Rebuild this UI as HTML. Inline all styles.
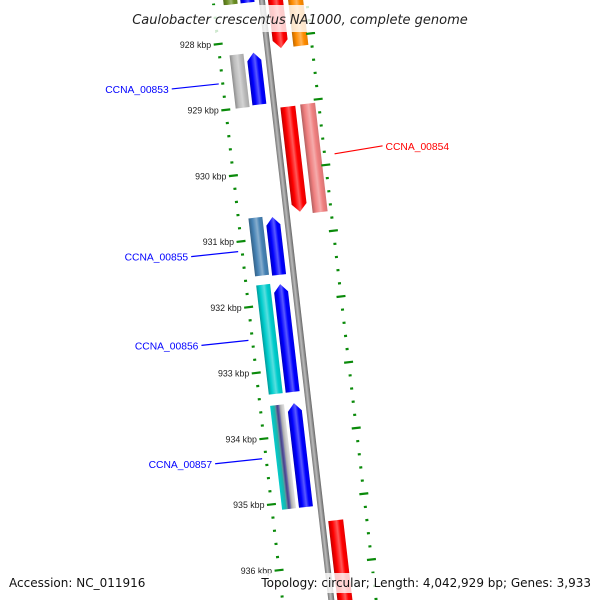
<!DOCTYPE html>
<html><head><meta charset="utf-8">
<style>
html,body{margin:0;padding:0;background:#fff;width:600px;height:600px;overflow:hidden;}
svg{display:block;font-family:"Liberation Sans","DejaVu Sans",sans-serif;overflow:hidden;}
</style></head>
<body>
<svg id="map" width="600" height="600" viewBox="0 0 600 600" xmlns="http://www.w3.org/2000/svg">
<defs>
<linearGradient id="bb" x1="0" x2="1" y1="0" y2="0">
<stop offset="0" stop-color="#777"/><stop offset="0.45" stop-color="#bbb"/><stop offset="1" stop-color="#666"/>
</linearGradient>
</defs>
<g id="rot" transform="translate(280,300) rotate(-6.6)"></g>
<g id="labels"></g>
<rect x="118" y="5" width="364" height="27" fill="#fff" fill-opacity="0.8"/>
<text x="300" y="24" text-anchor="middle" font-size="13" font-style="italic" fill="#222" style="font-family:'DejaVu Sans',sans-serif">Caulobacter crescentus NA1000, complete genome</text>
<rect x="258" y="573" width="342" height="20" fill="#fff" fill-opacity="0.8"/>
<text x="9" y="587" font-size="12" fill="#111" style="font-family:'DejaVu Sans',sans-serif">Accession: NC_011916</text>
<text x="591" y="587" text-anchor="end" font-size="12" fill="#111" style="font-family:'DejaVu Sans',sans-serif">Topology: circular; Length: 4,042,929 bp; Genes: 3,933</text>
</svg>
<script>
// feature data (kbp)
var featStart = [927.0, 928.19, 930.67, 931.69, 933.52, 927.0, 928.19, 930.69, 931.71, 933.52, 927.0, 929.06, 935.35, 927.0, 929.05];
var featEnd   = [927.43, 929.0, 931.55, 933.35, 935.10, 927.43, 928.98, 931.57, 933.35, 935.10, 928.17, 930.66, 937.2, 928.17, 930.70];
var featLane  = [0, 0, 0, 0, 0, 1, 1, 1, 1, 1, 2, 2, 2, 3, 3];
var featColor = ["#6b8e23","#bbbbbb","#4682b4","#00cdcd","mix","#0000ff","#0000ff","#0000ff","#0000ff","#0000ff","#ff0000","#ff0000","#ff0000","#ff8c00","#f08080"];
var featArrow = [0,0,0,0,0,-1,-1,-1,-1,-1,1,1,1,0,0];
var labelText = ["CCNA_00853","CCNA_00854","CCNA_00855","CCNA_00856","CCNA_00857"];
var labelKbp  = [928.6, 929.85, 931.15, 932.5, 934.3];
var labelSide = [-1, 1, -1, -1, -1];
var labelColor= ["#0000ff","#ff0000","#0000ff","#0000ff","#0000ff"];
var tickMajor = [928,929,930,931,932,933,934,935,936];
var tickMin = 927.0, tickMax = 937.4;

var NS="http://www.w3.org/2000/svg";
var A=6.6*Math.PI/180, CA=Math.cos(A), SA=Math.sin(A);
function vOf(k){return -261.4+(k-928)*66.2;}
function toScreen(u,v){return [280+u*CA+v*SA, 300-u*SA+v*CA];}
var laneU=[-15,2,30,50], laneW=[14,14,15,15];
var rot=document.getElementById('rot'), lab=document.getElementById('labels'), defs=document.querySelector('defs');
function mk(tag,attrs,parent){var e=document.createElementNS(NS,tag);for(var k in attrs)e.setAttribute(k,attrs[k]);parent.appendChild(e);return e;}

var bb=mk('rect',{x:13.5,y:-330,width:6,height:660,fill:'url(#bb)'},rot);



function shade(c,f){var n=parseInt(c.slice(1),16);var r=n>>16,g=(n>>8)&255,b=n&255;
 function m(x){return Math.round(f>0?x+(255-x)*f:x*(1+f));}
 return 'rgb('+m(r)+','+m(g)+','+m(b)+')';}
function grad(id,c){var g=mk('linearGradient',{id:id,x1:0,x2:1,y1:0,y2:0},defs);
 if(c==='mix'){[[0,'#00cdcd'],[0.3,'#20b2aa'],[0.35,'#5f9ea0'],[0.5,'#483d8b'],[0.62,'#6a6aaa'],[0.7,'#aaaaaa'],[0.85,'#cccccc'],[1,'#e0e0e0']].forEach(function(s){mk('stop',{offset:s[0],'stop-color':s[1]},g);});}
 else{[[0,shade(c,-0.25)],[0.25,c],[0.55,shade(c,0.35)],[0.75,c],[1,shade(c,-0.1)]].forEach(function(s){mk('stop',{offset:s[0],'stop-color':s[1]},g);});}
}
for(var i=0;i<featStart.length;i++){
 var u=laneU[featLane[i]], w=laneW[featLane[i]], v1=vOf(featStart[i]), v2=vOf(featEnd[i]);
 var x0=u-w/2, x1=u+w/2, h=8, d;
 grad('g'+i,featColor[i]);
 if(featArrow[i]<0) d='M'+x0+','+(v1+h)+' L'+u+','+v1+' L'+x1+','+(v1+h)+' L'+x1+','+v2+' L'+x0+','+v2+'Z';
 else if(featArrow[i]>0) d='M'+x0+','+v1+' L'+x1+','+v1+' L'+x1+','+(v2-h)+' L'+u+','+v2+' L'+x0+','+(v2-h)+'Z';
 else d='M'+x0+','+v1+' L'+x1+','+v1+' L'+x1+','+v2+' L'+x0+','+v2+'Z';
 var p=mk('path',{d:d,fill:'url(#g'+i+')'},rot);
 
 
}
var rings=[-32,61];
for(var r=0;r<2;r++){
 for(var t=0;t<=Math.round((tickMax-tickMin)/0.2);t++){
  var k=tickMin+t*0.2, v=vOf(k);
  var isMaj=tickMajor.some(function(m){return Math.abs(m-k)<0.01;});
  var L=isMaj?9:3;
  var tk=mk('rect',{x:rings[r]-L/2,y:v-1,width:L,height:2.2,fill:'#0a8a0a'},rot);
  
  
 }
}
for(var j=0;j<tickMajor.length;j++){
 var pt=toScreen(-39,vOf(tickMajor[j]));
 var tx=mk('text',{x:pt[0],y:pt[1]+3,'text-anchor':'end','font-size':'8.8',fill:'#222'},lab);
 tx.textContent=tickMajor[j]+' kbp';
 
 
}
for(var q=0;q<labelText.length;q++){
 var v=vOf(labelKbp[q]);
 var a,b;
 if(labelSide[q]<0){a=toScreen(-36,v);b=[a[0]-47,a[1]+5];}
 else{a=toScreen(71,v);b=[a[0]+48,a[1]-8];}
 var ln=mk('line',{x1:a[0],y1:a[1],x2:b[0],y2:b[1],stroke:labelColor[q],'stroke-width':1.2},lab);
 
 
 var te=mk('text',{x:labelSide[q]<0?b[0]-3:b[0]+3,y:b[1]+4,'text-anchor':labelSide[q]<0?'end':'start','font-size':'10.3',fill:labelColor[q]},lab);
 te.textContent=labelText[q];
 
 
}
</script>
</body></html>
